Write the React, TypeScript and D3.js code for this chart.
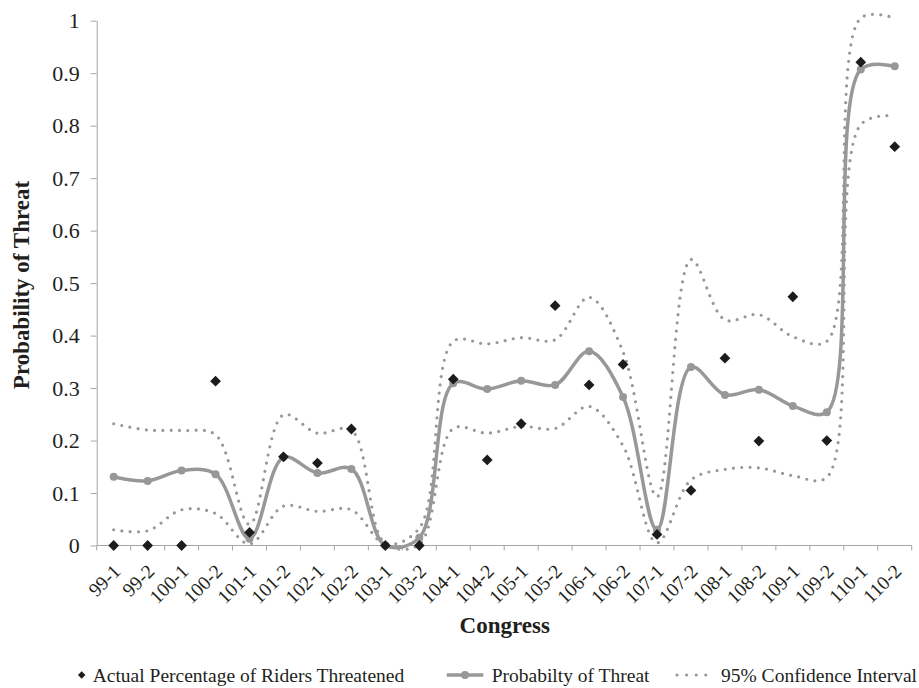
import React, { useEffect, useRef } from 'react';
import * as d3 from 'd3';

// Congress sessions along the x axis
const congress = [
    '99-1', '99-2', '100-1', '100-2', '101-1', '101-2', '102-1', '102-2',
    '103-1', '103-2', '104-1', '104-2', '105-1', '105-2', '106-1', '106-2',
    '107-1', '107-2', '108-1', '108-2', '109-1', '109-2', '110-1', '110-2',
];

// Actual percentage of riders threatened (diamonds)
const actual = [
    0, 0, 0, 0.313, 0.025, 0.169, 0.157, 0.222,
    0, 0, 0.317, 0.163, 0.232, 0.457, 0.306, 0.345,
    0.021, 0.105, 0.357, 0.199, 0.474, 0.2, 0.921, 0.76,
];

// Predicted probability of threat (solid line)
const prob = [
    0.131, 0.123, 0.143, 0.136, 0.013, 0.168, 0.138, 0.146,
    0, 0.015, 0.309, 0.298, 0.314, 0.306, 0.37, 0.283,
    0.03, 0.34, 0.287, 0.297, 0.266, 0.254, 0.907, 0.913,
];

// 95% confidence interval (dotted lines)
const upper = [
    0.232, 0.22, 0.219, 0.211, 0.04, 0.249, 0.214, 0.22,
    0.005, 0.033, 0.389, 0.384, 0.396, 0.392, 0.473, 0.369,
    0.093, 0.545, 0.43, 0.44, 0.398, 0.389, 1.005, 1.005,
];
const lower = [
    0.03, 0.028, 0.068, 0.061, 0.003, 0.075, 0.065, 0.068,
    0, 0.002, 0.223, 0.214, 0.227, 0.223, 0.265, 0.19,
    0.005, 0.125, 0.145, 0.148, 0.133, 0.13, 0.802, 0.819,
];

const yTicks = [0, 0.1, 0.2, 0.3, 0.4, 0.5, 0.6, 0.7, 0.8, 0.9, 1];

const serif = '"Liberation Serif", "Times New Roman", serif';
const textColor = '#231f20';
const axisColor = '#a6a6a6';
const lineColor = '#989898';
const diamondColor = '#1c1c1c';

const App = () => {
    const svgRef = useRef<SVGSVGElement>(null);
    const width = 919;
    const height = 688;

    useEffect(() => {
        const svg = d3.select(svgRef.current);
        svg.selectAll('*').remove();

        const x = d3.scaleBand().domain(congress).range([96.7, 911.7]);
        const y = d3.scaleLinear().domain([0, 1]).range([545.5, 20.7]);
        const cx = (c: string) => (x(c) as number) + x.bandwidth() / 2;

        // y axis
        svg.append('g')
            .attr('transform', `translate(${x.range()[0]},0)`)
            .call(d3.axisLeft(y).tickValues(yTicks).tickSize(6).tickSizeOuter(0).tickPadding(11)
                .tickFormat(d => (d === 0 || d === 1) ? String(d) : d3.format('.1f')(d as number)))
            .call(g => {
                g.attr('font-family', serif).attr('font-size', 22);
                g.select('.domain').attr('stroke', axisColor);
                g.selectAll('.tick line').attr('stroke', axisColor);
                g.selectAll('.tick text').attr('fill', textColor);
            });

        // x axis: ticks on band edges, rotated labels
        const xg = svg.append('g').attr('transform', `translate(0,${y(0)})`);
        xg.append('line')
            .attr('x1', x.range()[0]).attr('x2', x.range()[1])
            .attr('stroke', axisColor);
        const edges = [...congress.map(c => x(c) as number), x.range()[1]];
        xg.selectAll('line.tick')
            .data(edges)
            .join('line')
            .attr('class', 'tick')
            .attr('x1', d => d).attr('x2', d => d)
            .attr('y1', 0).attr('y2', 5)
            .attr('stroke', axisColor);
        xg.selectAll('text')
            .data(congress)
            .join('text')
            .attr('transform', d => `translate(${cx(d) + 8},27) rotate(-45)`)
            .attr('text-anchor', 'end')
            .attr('font-family', serif)
            .attr('font-size', 19.5)
            .attr('fill', textColor)
            .text(d => d);

        // smoothed lines, close to Excel's smoothing
        const curve = d3.curveCatmullRom.alpha(0.5);
        const line = d3.line<number>()
            .x((_, i) => cx(congress[i]))
            .y(d => y(d))
            .curve(curve);

        [upper, lower].forEach(series => {
            svg.append('path')
                .attr('d', line(series))
                .attr('fill', 'none')
                .attr('stroke', lineColor)
                .attr('stroke-width', 3.2)
                .attr('stroke-linecap', 'round')
                .attr('stroke-dasharray', '0 8.3');
        });

        svg.append('path')
            .attr('d', line(prob))
            .attr('fill', 'none')
            .attr('stroke', lineColor)
            .attr('stroke-width', 3.5);

        svg.append('g')
            .selectAll('circle')
            .data(prob)
            .join('circle')
            .attr('cx', (_, i) => cx(congress[i]))
            .attr('cy', d => y(d))
            .attr('r', 4)
            .attr('fill', lineColor);

        // actual values as diamonds
        const diamond = d3.symbol(d3.symbolSquare, 58);
        svg.append('g')
            .selectAll('path')
            .data(actual)
            .join('path')
            .attr('transform', (d, i) => `translate(${cx(congress[i])},${y(d)}) rotate(45)`)
            .attr('d', diamond)
            .attr('fill', diamondColor);

        // axis titles
        svg.append('text')
            .attr('transform', 'translate(29,285) rotate(-90)')
            .attr('text-anchor', 'middle')
            .attr('font-family', serif)
            .attr('font-weight', 'bold')
            .attr('font-size', 23)
            .attr('fill', textColor)
            .text('Probability of Threat');

        svg.append('text')
            .attr('x', 504.7)
            .attr('y', 633)
            .attr('text-anchor', 'middle')
            .attr('font-family', serif)
            .attr('font-weight', 'bold')
            .attr('font-size', 23)
            .attr('fill', textColor)
            .text('Congress');

        // legend
        const legendY = 675;
        const lg = svg.append('g')
            .attr('font-family', serif)
            .attr('font-size', 19.5)
            .attr('fill', textColor);

        lg.append('path')
            .attr('transform', `translate(81.7,${legendY}) rotate(45)`)
            .attr('d', d3.symbol(d3.symbolSquare, 28))
            .attr('fill', diamondColor);
        lg.append('text').attr('x', 92.7).attr('y', legendY + 6.7)
            .text('Actual Percentage of Riders Threatened');

        lg.append('line')
            .attr('x1', 446.7).attr('x2', 483.3)
            .attr('y1', legendY).attr('y2', legendY)
            .attr('stroke', lineColor).attr('stroke-width', 3.5);
        lg.append('circle')
            .attr('cx', 465).attr('cy', legendY).attr('r', 4)
            .attr('fill', lineColor);
        lg.append('text').attr('x', 491.7).attr('y', legendY + 6.7)
            .text('Probabilty of Threat');

        lg.append('line')
            .attr('x1', 677).attr('x2', 706)
            .attr('y1', legendY).attr('y2', legendY)
            .attr('stroke', lineColor).attr('stroke-width', 3.2)
            .attr('stroke-linecap', 'round')
            .attr('stroke-dasharray', '0 9.6');
        lg.append('text').attr('x', 721).attr('y', legendY + 6.7)
            .text('95% Confidence Interval');
    }, []);

    return (
        <svg
            ref={svgRef}
            width={width}
            height={height}
            style={{ position: 'absolute', left: 0, top: 0, background: '#fff' }}
        ></svg>
    );
};

export default App;
